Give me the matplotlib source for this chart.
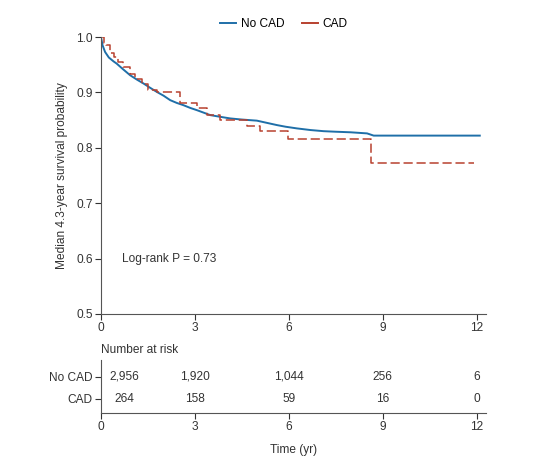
import matplotlib.pyplot as plt
from matplotlib.lines import Line2D

plt.rcParams["font.family"] = ["Liberation Sans", "DejaVu Sans"]
plt.rcParams["font.size"] = 8.6

BLUE = "#1f6fa8"
RED = "#b8412f"
GREY = "#333333"

# Kaplan-Meier curves
no_cad_t = [0, 0.05, 0.13, 0.25, 0.4, 0.5, 0.7, 0.93, 1.15, 1.36, 1.55, 1.78, 2.0,
            2.21, 2.42, 2.63, 2.85, 3.06, 3.3, 3.49, 3.8, 4.13, 4.5, 4.98, 5.3,
            5.62, 5.9, 6.26, 6.7, 7.11, 7.5, 7.97, 8.5, 8.71, 12.1]
no_cad_s = [1.0, 0.985, 0.973, 0.963, 0.956, 0.952, 0.942, 0.931, 0.923, 0.916,
            0.909, 0.901, 0.894, 0.886, 0.881, 0.877, 0.872, 0.868, 0.863, 0.859,
            0.856, 0.853, 0.851, 0.849, 0.845, 0.841, 0.838, 0.835, 0.832, 0.830,
            0.829, 0.828, 0.826, 0.822, 0.822]

cad_t = [0, 0.1, 0.16, 0.3, 0.4, 0.55, 0.71, 0.93, 1.1, 1.3, 1.51, 1.78, 2.53,
         3.06, 3.38, 3.81, 4.66, 5.08, 5.98, 8.64, 11.9]
cad_s = [1.0, 0.99, 0.985, 0.972, 0.964, 0.955, 0.946, 0.934, 0.925, 0.915, 0.904,
         0.90, 0.881, 0.871, 0.859, 0.850, 0.839, 0.830, 0.815, 0.773, 0.773]

groups = ["No CAD", "CAD"]
risk_times = [0, 3, 6, 9, 12]
risk_no_cad = ["2,956", "1,920", "1,044", "256", "6"]
risk_cad = ["264", "158", "59", "16", "0"]

fig = plt.figure(figsize=(5.41, 4.66), dpi=100)

ax = fig.add_axes([0.1867, 0.3262, 0.7117, 0.5944])
ax.plot(no_cad_t, no_cad_s, color=BLUE, lw=1.4)
ax.step(cad_t, cad_s, where="post", color=RED, lw=1.1, dashes=(6, 2.5))

ax.set_xlim(0, 12.3)
ax.set_ylim(0.5, 1.0)
ax.set_xticks(risk_times)
ax.set_yticks([0.5, 0.6, 0.7, 0.8, 0.9, 1.0])
ax.set_yticklabels(["0.5", "0.6", "0.7", "0.8", "0.9", "1.0"])
ax.set_ylabel("Median 4.3-year survival probability", color=GREY, labelpad=6)
for s in ["top", "right"]:
    ax.spines[s].set_visible(False)
for s in ["left", "bottom"]:
    ax.spines[s].set_color("#555555")
ax.tick_params(colors=GREY, length=4, width=0.8, pad=2)
ax.text(0.67, 0.6, "Log-rank P = 0.73", va="center", ha="left", color=GREY)

# legend handles are plain solid lines in the original
handles = [Line2D([], [], color=BLUE, lw=1.4), Line2D([], [], color=RED, lw=1.4)]
fig.legend(handles, groups, loc="center", bbox_to_anchor=(0.525, 0.948), ncol=2,
           frameon=False, handlelength=1.3, handletextpad=0.4, columnspacing=1.5)

# number at risk table
rx = fig.add_axes([0.1867, 0.1137, 0.7117, 0.1137])
rx.set_xlim(0, 12.3)
rx.set_ylim(-0.64, 1.77)
rx.set_xticks(risk_times)
rx.set_yticks([1, 0])
rx.set_yticklabels(groups)
text_x = [0.75, 3, 6, 9, 12]
for x, a, b in zip(text_x, risk_no_cad, risk_cad):
    rx.text(x, 1, a, ha="center", va="center", color=GREY)
    rx.text(x, 0, b, ha="center", va="center", color=GREY)
for s in ["top", "right"]:
    rx.spines[s].set_visible(False)
for s in ["left", "bottom"]:
    rx.spines[s].set_color("#555555")
rx.tick_params(colors=GREY, length=4, width=0.8, pad=2)
rx.set_xlabel("Time (yr)", color=GREY, labelpad=8)
rx.text(0, 1.07, "Number at risk", transform=rx.transAxes, ha="left", va="bottom",
        color=GREY)

plt.savefig("out.png", dpi=100)
